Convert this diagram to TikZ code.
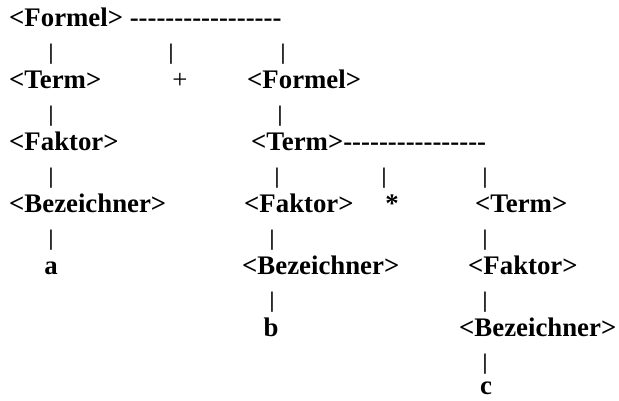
\documentclass[tikz,border=0pt]{standalone}
\usepackage{fontspec}
\setmainfont{Liberation Serif}[Ligatures=TeXOff]
\tikzset{
  sym/.style={anchor=base west, inner sep=0pt, font=\bfseries\fontsize{26.8}{30}\selectfont},
  leaf/.style={anchor=base, inner sep=0pt, font=\bfseries\fontsize{26.8}{30}\selectfont},
  bar/.style={anchor=base, inner sep=0pt, font=\bfseries\fontsize{22.3}{26}\selectfont},
  op/.style={anchor=base, inner sep=0pt, font=\fontsize{26.8}{30}\selectfont}
}
\begin{document}
\begin{tikzpicture}[x=1pt,y=-1pt]
      \useasboundingbox (0,0) rectangle (619,400);
      \draw
        (9,26) node[sym] (formelA){<Formel> -----------------}
        (51,59) node[bar] (barA){|}
        (171,59) node[bar] (barB){|}
        (283,59) node[bar] (barC){|}
        (9,88) node[sym] (termA){<Term>}
        (180,88) node[op] (plus){+}
        (247,88) node[sym] (formelB){<Formel>}
        (51,121) node[bar] (barD){|}
        (280,121) node[bar] (barE){|}
        (9,150) node[sym] (faktorA){<Faktor>}
        (251,150) node[sym] (termB){<Term>----------------}
        (51,183) node[bar] (barF){|}
        (277,183) node[bar] (barG){|}
        (384,183) node[bar] (barH){|}
        (485,183) node[bar] (barI){|}
        (9,212) node[sym] (bezA){<Bezeichner>}
        (244,212) node[sym] (faktorB){<Faktor>}
        (392,212) node[leaf] (star){*}
        (475,212) node[sym] (termC){<Term>}
        (51,245) node[bar] (barJ){|}
        (272,245) node[bar] (barK){|}
        (485,245) node[bar] (barL){|}
        (51,274) node[leaf] (a){a}
        (242,274) node[sym] (bezB){<Bezeichner>}
        (468,274) node[sym] (faktorC){<Faktor>}
        (272,307) node[bar] (barM){|}
        (485,307) node[bar] (barN){|}
        (271,336) node[leaf] (b){b}
        (459,336) node[sym] (bezC){<Bezeichner>}
        (485,369) node[bar] (barO){|}
        (486,394) node[leaf] (c){c};
    \end{tikzpicture}
\end{document}
